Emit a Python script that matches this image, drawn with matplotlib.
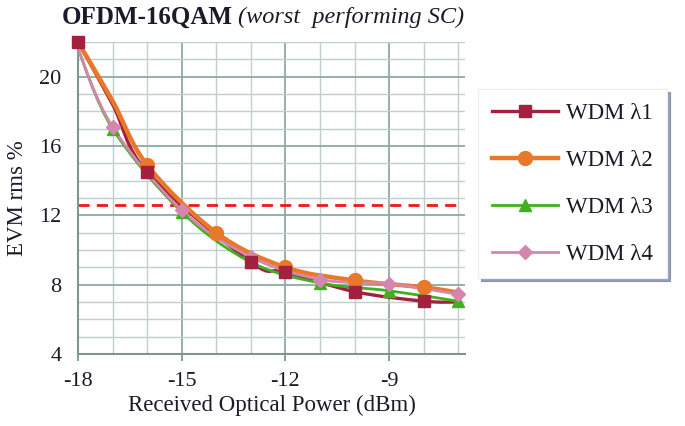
import numpy as np
import matplotlib
matplotlib.use("Agg")
import matplotlib.pyplot as plt
from matplotlib.path import Path
from matplotlib.patches import PathPatch
from matplotlib.lines import Line2D

plt.rcParams["font.family"] = ["Liberation Serif", "DejaVu Serif"]
plt.rcParams["axes.unicode_minus"] = False

# data
x_l1 = [-18, -17, -16, -13, -12, -10, -8, -7]
y_l1 = [22.0, 18.4, 14.5, 9.3, 8.75, 7.6, 7.05, 7.0]
x_l2 = [-18, -17, -16, -14, -12, -10, -8, -7]
y_l2 = [22.0, 18.6, 14.9, 11.0, 9.0, 8.25, 7.85, 7.55]
x_l3 = [-18, -17, -15, -13, -11, -9, -7]
y_l3 = [21.6, 17.0, 12.2, 9.3, 8.1, 7.65, 7.05]
x_l4 = [-18, -17, -15, -13, -11, -9, -7]
y_l4 = [21.6, 17.1, 12.3, 9.6, 8.3, 8.05, 7.45]
threshold = 12.6

labels = ["WDM \u03bb1", "WDM \u03bb2", "WDM \u03bb3", "WDM \u03bb4"]
colors = ["#A3203F", "#E8782A", "#3DB21E", "#D486AC"]
markers = ["s", "o", "^", "D"]


def smooth_path(xs, ys, t=1 / 6):
    # catmull-rom style bezier through the points, similar to excel smoothing
    xs = np.asarray(xs, float)
    ys = np.asarray(ys, float)
    verts = [(xs[0], ys[0])]
    codes = [Path.MOVETO]
    n = len(xs)
    for i in range(n - 1):
        p0 = (xs[max(i - 1, 0)], ys[max(i - 1, 0)])
        p1 = (xs[i], ys[i])
        p2 = (xs[i + 1], ys[i + 1])
        p3 = (xs[min(i + 2, n - 1)], ys[min(i + 2, n - 1)])
        c1 = (p1[0] + (p2[0] - p0[0]) * t, p1[1] + (p2[1] - p0[1]) * t)
        c2 = (p2[0] - (p3[0] - p1[0]) * t, p2[1] - (p3[1] - p1[1]) * t)
        verts += [c1, c2, p2]
        codes += [Path.CURVE4] * 3
    return Path(verts, codes)


fig = plt.figure(figsize=(6.85, 4.26), dpi=100)
ax = fig.add_axes([0.114, 0.169, 0.565, 0.732])

ax.set_xlim(-18, -6.8)
ax.set_ylim(4, 22)
ax.set_xticks([-18, -15, -12, -9])
ax.set_xticks(np.arange(-18, -6, 1), minor=True)
ax.set_yticks([4, 8, 12, 16, 20])
ax.set_yticks(np.arange(4, 23, 1), minor=True)
ax.grid(which="minor", color="#BFD0CC", lw=1.0)
ax.grid(which="major", color="#8FA8A2", lw=1.3)
ax.set_axisbelow(True)
for s in ["top", "right"]:
    ax.spines[s].set_visible(False)
for s in ["left", "bottom"]:
    ax.spines[s].set_color("#7F9690")
    ax.spines[s].set_linewidth(1.5)
ax.tick_params(axis="x", which="major", length=5, color="#7F9690", width=1.3,
               labelsize=16, pad=8, labelcolor="#1A1A28")
ax.tick_params(axis="x", which="minor", length=0)
ax.tick_params(axis="y", which="both", length=0, labelsize=16, pad=12,
               labelcolor="#1A1A28")

ax.axhline(threshold, xmin=0, xmax=(-7 + 18) / 11.2, color="#F01818", lw=2,
           ls=(0, (4, 2.6)), zorder=2)

series = [(x_l1, y_l1, 2.4, 8, [0, 2, 3, 4, 5, 6]),
          (x_l2, y_l2, 3.2, 10, [2, 3, 4, 5, 6]),
          (x_l3, y_l3, 2.0, 8, [1, 2, 3, 4, 5, 6]),
          (x_l4, y_l4, 2.0, 7, [1, 2, 3, 4, 5, 6])]
order = [0, 1, 2, 3]
for k in order:
    xs, ys, lw, ms, mev = series[k]
    ax.add_patch(PathPatch(smooth_path(xs, ys), fill=False, ec=colors[k],
                           lw=lw, zorder=3 + k * 0.1, capstyle="round"))
for k in [1, 2, 3, 0]:
    xs, ys, lw, ms, mev = series[k]
    ax.plot(xs, ys, ls="none", marker=markers[k], ms=ms, color=colors[k],
            markevery=mev, zorder=4 + (0.5 if k == 0 else k * 0.1),
            clip_on=False)

ax.set_xlabel("Received Optical Power (dBm)", fontsize=16.5, labelpad=3,
              color="#1A1A28")
ax.set_ylabel("EVM rms %", fontsize=16.5, labelpad=8, color="#1A1A28")

handles = []
for k in range(4):
    handles.append(Line2D([], [], color=colors[k], lw=series[k][2],
                          marker=markers[k], ms=series[k][3]))
leg = fig.legend(handles, labels, loc="upper left",
                 bbox_to_anchor=(0.698, 0.791), borderaxespad=0,
                 fontsize=16.5, frameon=True, fancybox=False,
                 handlelength=2.9, labelspacing=1.13, borderpad=0.6,
                 handletextpad=0.35, labelcolor="#1A1A28",
                 shadow={"color": "#6A7A9A", "alpha": 0.7})
leg.get_frame().set_edgecolor("#EEEEF2")
leg.get_frame().set_linewidth(0.8)

renderer = fig.canvas.get_renderer()
t1 = fig.text(0.09, 0.945, "OFDM-16QAM", fontsize=18, fontweight="bold",
              color="#1A1A28")
bb = t1.get_window_extent(renderer)
fig.text((bb.x1 + 5) / fig.bbox.width, 0.945, "(worst  performing SC)",
         fontsize=17.5, style="italic", color="#1A1A28")

fig.savefig("out.png", dpi=100)
